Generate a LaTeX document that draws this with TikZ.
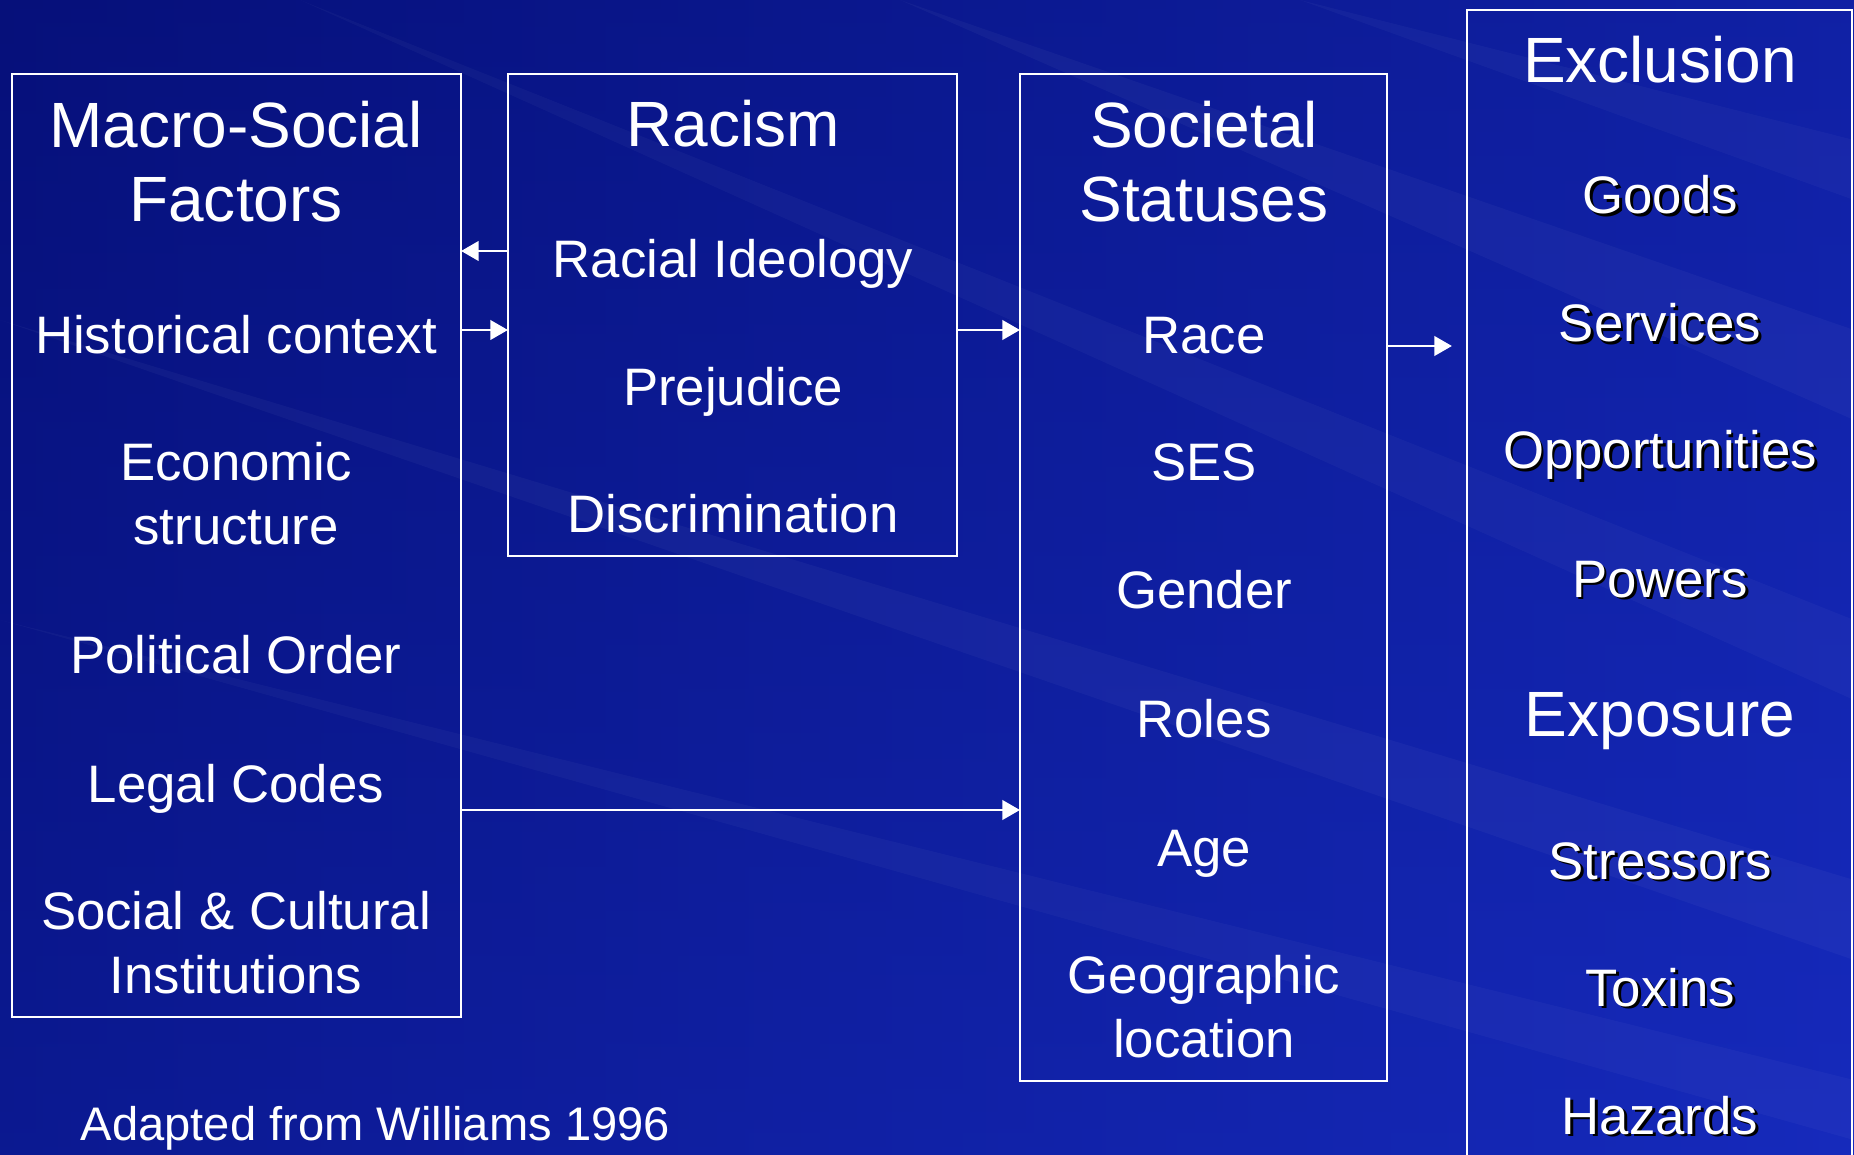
\documentclass[tikz,border=0pt]{standalone}
\usepackage{fontspec}
\setmainfont{Liberation Sans}
\usepackage{tikz}
\usetikzlibrary{arrows.meta, positioning}

\definecolor{bgdark}{RGB}{6,16,122}
\definecolor{bglight}{RGB}{22,42,188}

\tikzset{
  panel/.style={draw=white, line width=0.6pt, inner sep=0pt, outer sep=0pt},
  head/.style={text=white, align=center, anchor=base, inner sep=0pt,
    font=\fontsize{18.2}{21.3}\selectfont},
  item/.style={text=white, align=center, anchor=base, inner sep=0pt,
    font=\fontsize{15}{18.2}\selectfont},
}
\newcommand\shadtxt[1]{\leavevmode\rlap{\kern0.8pt\raisebox{-0.8pt}{\color{black}#1}}#1}

\begin{document}
\begin{tikzpicture}[x=0.01cm, y=-0.01cm, >={Triangle[length=5pt,width=5.6pt]}]
  \useasboundingbox (0,0) rectangle (1854,1155);
  \clip (0,0) rectangle (1854,1155);
  % background
  \shade [left color=bgdark, right color=bglight] (0,0) rectangle (1854,1155);
  \shade [top color=bgdark, bottom color=bglight, opacity=0.35] (0,0) rectangle (1854,1155);
  \fill [white, opacity=0.035] (0,320) -- (1854,880) -- (1854,960) -- cycle;
  \fill [white, opacity=0.03] (300,0) -- (1854,620) -- (1854,700) -- cycle;
  \fill [white, opacity=0.035] (900,0) -- (1854,330) -- (1854,420) -- cycle;
  \fill [white, opacity=0.03] (0,620) -- (1854,1080) -- (1854,1140) -- cycle;
  \fill [white, opacity=0.03] (1300,0) -- (1854,140) -- (1854,200) -- cycle;

  % boxes
  \node (macro) at (236.5,545.5) [panel, minimum width=4.49cm, minimum height=9.43cm] {};
  \node (racism) at (732.5,315) [panel, minimum width=4.49cm, minimum height=4.82cm] {};
  \node (soc) at (1203.5,577.5) [panel, minimum width=3.67cm, minimum height=10.07cm] {};
  \node (excl) at (1659.5,592.5) [panel, minimum width=3.85cm, minimum height=11.65cm] {};

  % macro-social factors (two-line nodes sit on their last baseline)
  \node (macrohd) at (236,222) [head] {Macro-Social\\Factors};
  \node (hist) at (236,354) [item] {Historical context};
  \node (econ) at (236,545) [item] {Economic\\structure};
  \node (polit) at (236,673) [item] {Political Order};
  \node (legal) at (236,802) [item] {Legal Codes};
  \node (inst) at (236,993) [item] {Social \& Cultural\\Institutions};

  % racism
  \node (racismhd) at (733,147) [head] {Racism};
  \node (ideo) at (733,278) [item] {Racial Ideology};
  \node (prej) at (733,406) [item] {Prejudice};
  \node (discr) at (733,533) [item] {Discrimination};

  % societal statuses
  \node (sochd) at (1204,222) [head] {Societal\\Statuses};
  \node (race) at (1204,354) [item] {Race};
  \node (ses) at (1204,481) [item] {SES};
  \node (gender) at (1204,609) [item] {Gender};
  \node (roles) at (1204,738) [item] {Roles};
  \node (age) at (1204,866) [item] {Age};
  \node (geo) at (1204,1057) [item] {Geographic\\location};

  % exclusion / exposure
  \node (exclhd) at (1660,83) [head] {Exclusion};
  \node (goods) at (1660,214) [item] {\shadtxt{Goods}};
  \node (serv) at (1660,342) [item] {\shadtxt{Services}};
  \node (opp) at (1660,469) [item] {\shadtxt{Opportunities}};
  \node (pow) at (1660,597) [item] {\shadtxt{Powers}};
  \node (expo) at (1660,736) [head] {Exposure};
  \node (stress) at (1660,879) [item] {\shadtxt{Stressors}};
  \node (tox) at (1660,1006) [item] {\shadtxt{Toxins}};
  \node (haz) at (1660,1134) [item] {\shadtxt{Hazards}};

  \node (src) at (80,1140) [item, anchor=base west, font=\fontsize{13.4}{16}\selectfont] {Adapted from Williams 1996};

  % connectors
  \draw [white, line width=0.6pt, ->] (racism.west |- 0,251) -- (macro.east |- 0,251);
  \draw [white, line width=0.6pt, ->] (macro.east |- 0,330) -- (racism.west |- 0,330);
  \draw [white, line width=0.6pt, ->] (racism.east |- 0,330) -- (soc.west |- 0,330);
  \draw [white, line width=0.6pt, ->, shorten >=0.15cm] (soc.east |- 0,346) -- (excl.west |- 0,346);
  \draw [white, line width=0.6pt, ->] (macro.east |- 0,810) -- (soc.west |- 0,810);
\end{tikzpicture}
\end{document}
